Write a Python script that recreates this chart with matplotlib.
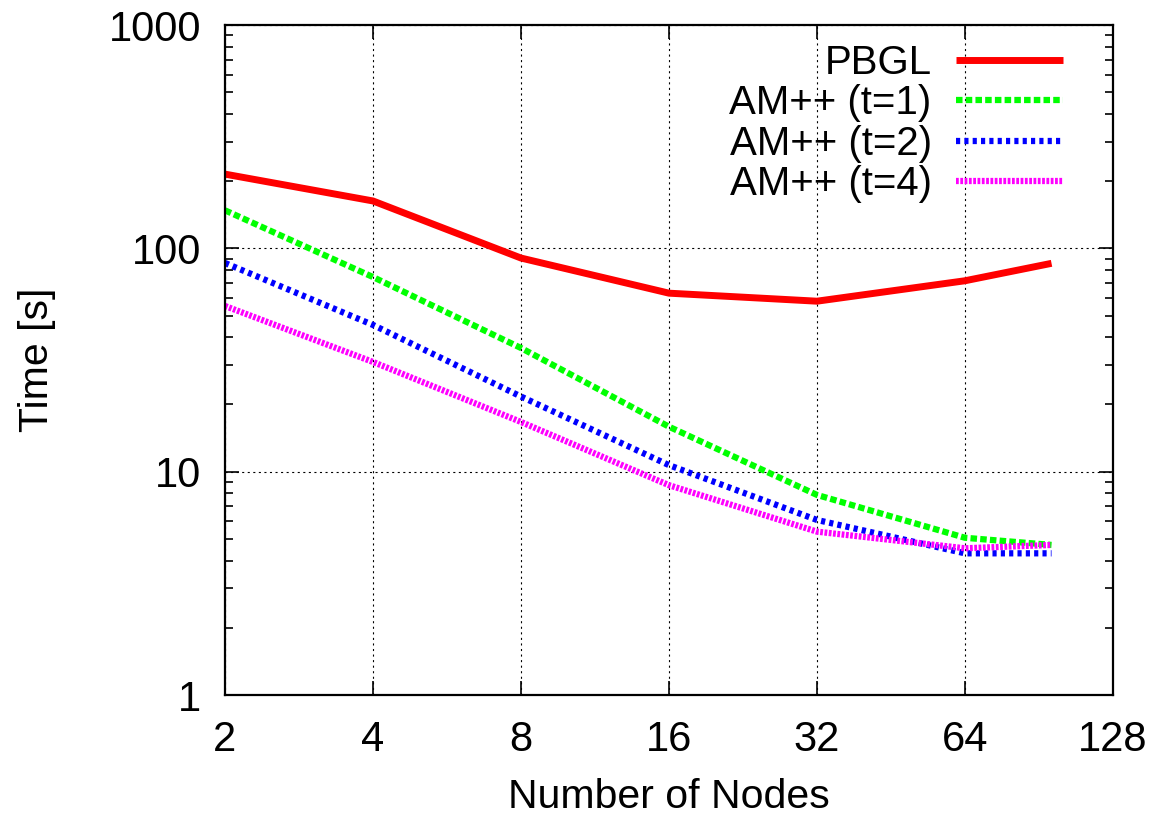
import numpy as np
import matplotlib
matplotlib.use('Agg')
import matplotlib.pyplot as plt
from matplotlib import ticker

nodes = [2, 4, 8, 16, 32, 64, 96]
pbgl = [215, 163, 90.5, 63, 58, 71.6, 85.7]
am_t1 = [148, 74.4, 35.8, 15.9, 7.87, 5.06, 4.7]
am_t2 = [86, 45.4, 21.7, 10.7, 6.08, 4.31, 4.31]
am_t4 = [55.2, 31, 16.7, 8.7, 5.39, 4.54, 4.7]
xticks = [2, 4, 8, 16, 32, 64, 128]
yticks = [1, 10, 100, 1000]

plt.rcParams['font.family'] = ['Liberation Sans', 'DejaVu Sans']
plt.rcParams['lines.scale_dashes'] = False

fig = plt.figure(figsize=(11.55, 8.15), dpi=100)
ax = fig.add_axes([0.1948, 0.1472, 0.7688, 0.8221])

ax.plot(nodes, pbgl, color='#ff0000', lw=5, label='PBGL', solid_capstyle='butt')
ax.plot(nodes, am_t1, color='#00ff00', lw=4.5, dashes=(4.7, 2.3), dash_capstyle='butt',
        label='AM++ (t=1)')
ax.plot(nodes, am_t2, color='#0000ff', lw=4.5, dashes=(3, 3), dash_capstyle='butt',
        label='AM++ (t=2)')
ax.plot(nodes, am_t4, color='#ff00ff', lw=4.5, dashes=(2, 1.1), dash_capstyle='butt',
        label='AM++ (t=4)')

ax.set_xscale('log', base=2)
ax.set_yscale('log')
ax.set_xlim(2, 128)
ax.set_ylim(1, 1000)
ax.set_xticks(xticks)
ax.xaxis.set_major_formatter(ticker.FixedFormatter([str(v) for v in xticks]))
ax.xaxis.set_minor_locator(ticker.NullLocator())
ax.set_yticks(yticks)
ax.yaxis.set_major_formatter(ticker.FixedFormatter([str(v) for v in yticks]))
ax.yaxis.set_minor_locator(ticker.LogLocator(base=10, subs=np.arange(2, 10)))
ax.yaxis.set_minor_formatter(ticker.NullFormatter())

ax.tick_params(axis='both', which='major', direction='in', top=True, right=True,
               length=10, width=1.2, labelsize=30)
ax.tick_params(axis='x', which='major', pad=18)
ax.tick_params(axis='y', which='major', pad=17)
ax.tick_params(axis='y', which='minor', direction='in', left=True, right=True,
               length=6, width=1.2)
for s in ax.spines.values():
    s.set_linewidth(1.6)

ax.grid(True, which='major', linestyle=(0, (1.5, 2.5)), color='black', linewidth=0.8)

ax.set_xlabel('Number of Nodes', fontsize=29.5, labelpad=13)
ax.set_ylabel('Time [s]', fontsize=29.5, labelpad=38)

ax.legend(loc='upper right', frameon=False, markerfirst=False, fontsize=29,
          handlelength=2.66, handletextpad=0.6, labelspacing=0.06,
          borderpad=0, borderaxespad=0, bbox_to_anchor=(0.9437, 0.972))

fig.savefig('out.png', dpi=100)
